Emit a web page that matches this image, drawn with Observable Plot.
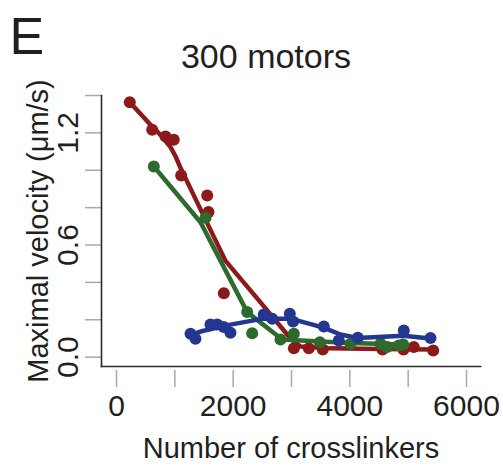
<!DOCTYPE html>
<html>
<head>
<meta charset="utf-8">
<script src="https://cdn.jsdelivr.net/npm/d3@7"></script>
<script src="https://cdn.jsdelivr.net/npm/@observablehq/plot@0.6"></script>
<style>
  html, body { margin: 0; padding: 0; background: #fff; }
</style>
</head>
<body>
<div id="chart"></div>
<script>
// Panel text
const panelLetter = "E";
const title = "300 motors";
const xLabel = "Number of crosslinkers";
const yLabel = "Maximal velocity (μm/s)";

// Axis ticks
const xTicks = [0, 1000, 2000, 3000, 4000, 5000, 6000];
const xTickLabels = [0, 2000, 4000, 6000];
const yTicks = [0, 0.2, 0.4, 0.6, 0.8, 1.0, 1.2, 1.4];
const yTickLabels = [0.0, 0.6, 1.2];

// Red series: data points
const redX = [228, 612, 840, 982, 1109, 1555, 1577, 1840, 3040, 3297, 3537, 4560, 4920, 5097, 5429];
const redY = [1.364, 1.217, 1.181, 1.163, 0.972, 0.865, 0.777, 0.342, 0.047, 0.047, 0.041, 0.041, 0.041, 0.054, 0.036];
// Red series: fitted curve
const redFitX = [228, 583, 754, 926, 1012, 1097, 1354, 1611, 1869, 2469, 2983, 3154, 3669, 4526, 5429];
const redFitY = [1.364, 1.243, 1.189, 1.124, 1.075, 1.013, 0.847, 0.681, 0.515, 0.293, 0.100, 0.057, 0.047, 0.044, 0.041];

// Green series: data points
const greenX = [640, 1526, 2240, 2326, 2811, 3040, 3486, 4011, 4526, 4640, 4840, 4914];
const greenY = [1.020, 0.746, 0.241, 0.128, 0.095, 0.125, 0.080, 0.072, 0.072, 0.054, 0.063, 0.068];
// Green series: fitted curve
const greenFitX = [640, 1440, 1646, 2241, 2841, 3154, 4011, 4914];
const greenFitY = [1.020, 0.722, 0.598, 0.241, 0.095, 0.089, 0.076, 0.068];

// Blue series: data points
const blueX = [1269, 1354, 1611, 1726, 1839, 1954, 2525, 2669, 2971, 3026, 3554, 3811, 4137, 4925, 5383];
const blueY = [0.125, 0.098, 0.175, 0.175, 0.161, 0.131, 0.228, 0.205, 0.232, 0.191, 0.164, 0.089, 0.104, 0.143, 0.102];
// Blue series: fitted curve
const blueFitX = [1234, 1440, 1954, 2520, 2983, 3549, 3840, 4131, 4920, 5417];
const blueFitY = [0.116, 0.137, 0.174, 0.206, 0.206, 0.158, 0.121, 0.103, 0.115, 0.099];

const colors = {red: "#8c1a1a", green: "#2d6a2e", blue: "#233791"};

const toRows = (xs, ys) => xs.map((x, i) => ({x, y: ys[i]}));

const series = [
  {pts: toRows(redX, redY), fit: toRows(redFitX, redFitY), color: colors.red},
  {pts: toRows(greenX, greenY), fit: toRows(greenFitX, greenFitY), color: colors.green},
  {pts: toRows(blueX, blueY), fit: toRows(blueFitX, blueFitY), color: colors.blue}
];

const textColor = "#231f20";
const font = "'Liberation Sans', Arial, Helvetica, sans-serif";

const seriesMarks = series.flatMap(s => [
  Plot.line(s.fit, {x: "x", y: "y", stroke: s.color, strokeWidth: 4.5, strokeLinejoin: "round", strokeLinecap: "round"}),
  Plot.dot(s.pts, {x: "x", y: "y", r: 6, fill: s.color, stroke: "none"})
]);

const chart = Plot.plot({
  width: 503,
  height: 466,
  marginLeft: 101,
  marginRight: 23,
  marginTop: 95,
  marginBottom: 100,
  x: {domain: [-257, 6240]},
  y: {domain: [-0.05, 1.4]},
  style: {fontFamily: font, background: "#fff", color: textColor},
  marks: [
    Plot.axisY({ticks: yTicks, tickSize: 16, tickFormat: () => "", stroke: "#a8a8a8", strokeWidth: 1.5, label: null}),
    Plot.axisX({ticks: xTicks, tickSize: 17, dy: 4, tickFormat: () => "", stroke: "#a8a8a8", strokeWidth: 1.5, label: null}),
    Plot.frame({anchor: "left", stroke: "#2a2a2a", strokeWidth: 1.6}),
    Plot.frame({anchor: "bottom", stroke: "#2a2a2a", strokeWidth: 1.6}),
    Plot.text(yTickLabels, {y: d => d, text: d => d.toFixed(1), frameAnchor: "left", dx: -24, rotate: -90, lineAnchor: "bottom", textAnchor: "middle", fontSize: 30, fill: textColor}),
    Plot.text(xTickLabels, {x: d => d, text: d => String(d), frameAnchor: "bottom", dy: 49, lineAnchor: "bottom", textAnchor: "middle", fontSize: 30, fill: textColor}),
    Plot.text([yLabel], {text: d => d, frameAnchor: "left", dx: -54, rotate: -90, lineAnchor: "bottom", textAnchor: "middle", fontSize: 29, fill: textColor}),
    Plot.text([xLabel], {text: d => d, frameAnchor: "bottom", dy: 91, lineAnchor: "bottom", textAnchor: "middle", fontSize: 29, fill: textColor}),
    Plot.text([title], {text: d => d, frameAnchor: "top", dx: -25, dy: -28, lineAnchor: "bottom", textAnchor: "middle", fontSize: 34, fill: textColor}),
    Plot.text([panelLetter], {text: d => d, frameAnchor: "top-left", dx: -92, dy: -42, lineAnchor: "bottom", textAnchor: "start", fontSize: 52, fill: textColor}),
    ...seriesMarks
  ]
});

document.getElementById("chart").appendChild(chart);
</script>
</body>
</html>
